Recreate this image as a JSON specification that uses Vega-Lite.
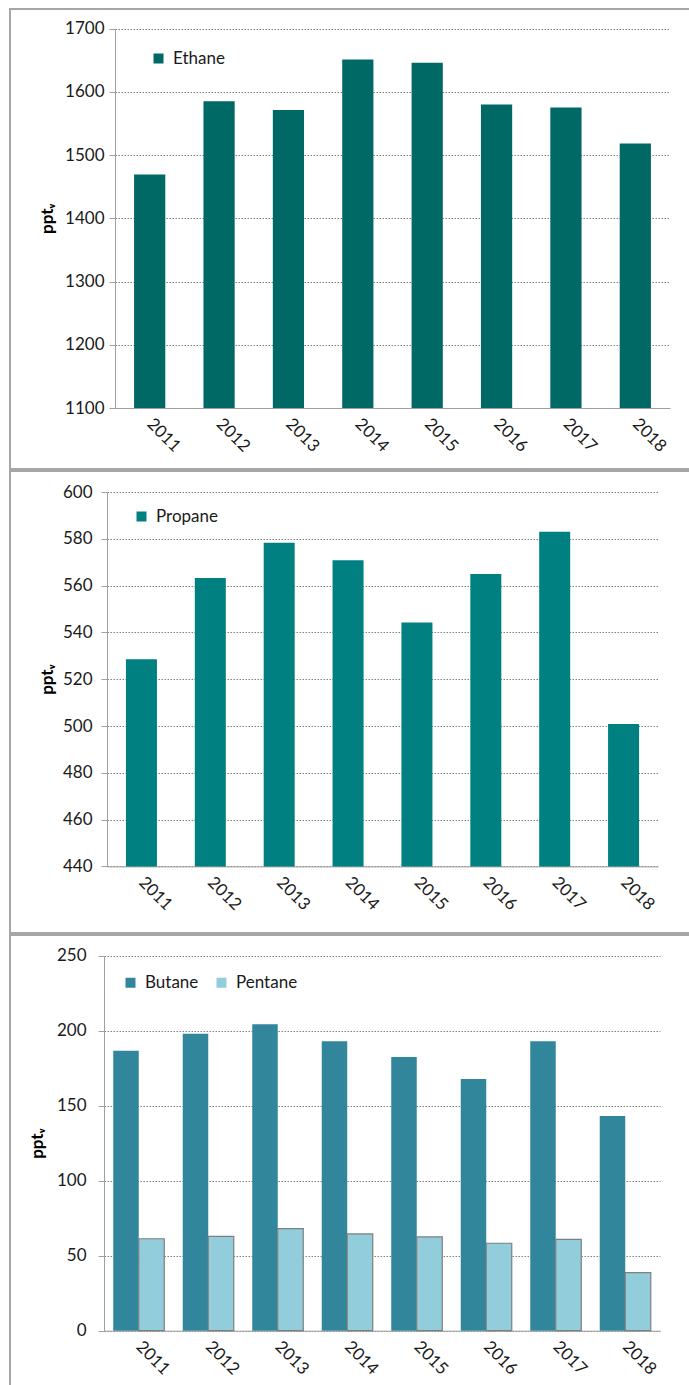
{
  "$schema": "https://vega.github.io/schema/vega-lite/v6.json",
  "padding": {"left": 9, "top": 8, "right": 0, "bottom": 0},
  "background": "white",
  "spacing": 0,
  "datasets": {
    "ethane": [
      {"year": "2011", "series": "Ethane", "value": 1469},
      {"year": "2012", "series": "Ethane", "value": 1585},
      {"year": "2013", "series": "Ethane", "value": 1571},
      {"year": "2014", "series": "Ethane", "value": 1651},
      {"year": "2015", "series": "Ethane", "value": 1646},
      {"year": "2016", "series": "Ethane", "value": 1580},
      {"year": "2017", "series": "Ethane", "value": 1575},
      {"year": "2018", "series": "Ethane", "value": 1518}
    ],
    "propane": [
      {"year": "2011", "series": "Propane", "value": 528.5},
      {"year": "2012", "series": "Propane", "value": 563.2},
      {"year": "2013", "series": "Propane", "value": 578.3},
      {"year": "2014", "series": "Propane", "value": 570.8},
      {"year": "2015", "series": "Propane", "value": 544.2},
      {"year": "2016", "series": "Propane", "value": 565.0},
      {"year": "2017", "series": "Propane", "value": 583.0},
      {"year": "2018", "series": "Propane", "value": 500.9}
    ],
    "butpent": [
      {"year": "2011", "series": "Butane", "value": 186.7},
      {"year": "2012", "series": "Butane", "value": 198.0},
      {"year": "2013", "series": "Butane", "value": 204.3},
      {"year": "2014", "series": "Butane", "value": 193.0},
      {"year": "2015", "series": "Butane", "value": 182.5},
      {"year": "2016", "series": "Butane", "value": 167.8},
      {"year": "2017", "series": "Butane", "value": 193.0},
      {"year": "2018", "series": "Butane", "value": 143.1},
      {"year": "2011", "series": "Pentane", "value": 61.3},
      {"year": "2012", "series": "Pentane", "value": 62.9},
      {"year": "2013", "series": "Pentane", "value": 68.0},
      {"year": "2014", "series": "Pentane", "value": 64.5},
      {"year": "2015", "series": "Pentane", "value": 62.5},
      {"year": "2016", "series": "Pentane", "value": 58.3},
      {"year": "2017", "series": "Pentane", "value": 60.9},
      {"year": "2018", "series": "Pentane", "value": 38.7}
    ]
  },
  "resolve": {
    "scale": {"x": "independent", "y": "independent", "color": "independent", "xOffset": "independent"},
    "axis": {"x": "independent", "y": "independent"},
    "legend": {"color": "independent"}
  },
  "vconcat": [
    {
      "width": 700,
      "height": 460,
      "data": {"name": "ethane"},
      "mark": {"type": "bar"},
      "encoding": {
        "x": {
          "field": "year", "type": "nominal",
          "scale": {"range": [105, 660], "paddingInner": 0.55, "paddingOuter": 0.275},
          "axis": {"offset": -61, "title": null}
        },
        "y": {
          "field": "value", "type": "quantitative",
          "scale": {"domain": [1100, 1700], "range": [399, 19.5], "zero": false, "nice": false},
          "axis": {"values": [1100, 1200, 1300, 1400, 1500, 1600, 1700], "format": "d", "offset": -105, "title": "pptᵥ", "labelPadding": 5, "titlePadding": 8}
        },
        "y2": {"datum": 1100},
        "color": {
          "field": "series", "type": "nominal",
          "scale": {"range": ["#006865"]},
          "legend": {"orient": "none", "legendX": 140, "legendY": 41, "title": null}
        }
      }
    },
    {
      "width": 700,
      "height": 462,
      "data": {"name": "propane"},
      "mark": {"type": "bar"},
      "encoding": {
        "x": {
          "field": "year", "type": "nominal",
          "scale": {"range": [97, 648], "paddingInner": 0.55, "paddingOuter": 0.275},
          "axis": {"offset": -66.6, "title": null}
        },
        "y": {
          "field": "value", "type": "quantitative",
          "scale": {"domain": [440, 600], "range": [395.4, 21], "zero": false, "nice": false},
          "axis": {"values": [440, 460, 480, 500, 520, 540, 560, 580, 600], "format": "d", "offset": -97, "title": "pptᵥ", "labelPadding": 9}
        },
        "y2": {"datum": 440},
        "color": {
          "field": "series", "type": "nominal",
          "scale": {"range": ["#008080"]},
          "legend": {"orient": "none", "legendX": 123, "legendY": 37, "title": null}
        }
      }
    },
    {
      "width": 700,
      "height": 460,
      "data": {"name": "butpent"},
      "mark": {"type": "bar", "strokeWidth": 1.2},
      "encoding": {
        "x": {
          "field": "year", "type": "nominal",
          "scale": {"range": [94, 650], "paddingInner": 0.266, "paddingOuter": 0.133},
          "axis": {"offset": -64.3, "title": null}
        },
        "xOffset": {"field": "series", "type": "nominal", "scale": {"paddingInner": 0, "paddingOuter": 0}},
        "y": {
          "field": "value", "type": "quantitative",
          "scale": {"domain": [0, 250], "range": [395.7, 20.7], "nice": false},
          "axis": {"values": [0, 50, 100, 150, 200, 250], "format": "d", "offset": -94, "title": "pptᵥ", "labelPadding": 12, "titlePadding": 10}
        },
        "y2": {"datum": 0},
        "color": {
          "field": "series", "type": "nominal",
          "scale": {"domain": ["Butane", "Pentane"], "range": ["#31869b", "#92cddc"]},
          "legend": {
            "orient": "none", "legendX": 112, "legendY": 39, "title": null,
            "direction": "horizontal", "columns": 2, "columnPadding": 14,
            "encode": {"symbols": {"update": {"stroke": {"signal": "datum.value === 'Pentane' ? '#7f7f7f' : 'transparent'"}, "strokeWidth": {"value": 1.2}}}}
          }
        },
        "stroke": {"condition": {"test": "datum.series === 'Pentane'", "value": "#7f7f7f"}, "value": "transparent"}
      }
    }
  ],
  "config": {
    "view": {"stroke": "#a6a6a6", "strokeWidth": 2},
    "font": "Lato",
    "axis": {
      "labelFont": "Lato", "labelFontSize": 17, "labelColor": "#1a1a1a",
      "domainColor": "#a0a0a0", "tickColor": "#a0a0a0",
      "gridColor": "#808080", "gridDash": [1.5, 1.5], "gridWidth": 1,
      "titleFont": "Lato", "titleFontSize": 17, "titleFontWeight": "bold", "titleColor": "#000000"
    },
    "axisY": {"grid": true, "tickSize": 6, "titlePadding": 6},
    "axisX": {"grid": false, "ticks": false, "labelAngle": 45, "labelPadding": 13, "labelAlign": "left", "labelBaseline": "middle"},
    "legend": {
      "labelFont": "Lato", "labelFontSize": 17, "labelColor": "#1a1a1a",
      "symbolType": "square", "symbolSize": 100, "symbolStrokeWidth": 0, "labelOffset": 6, "padding": 0
    }
  }
}
